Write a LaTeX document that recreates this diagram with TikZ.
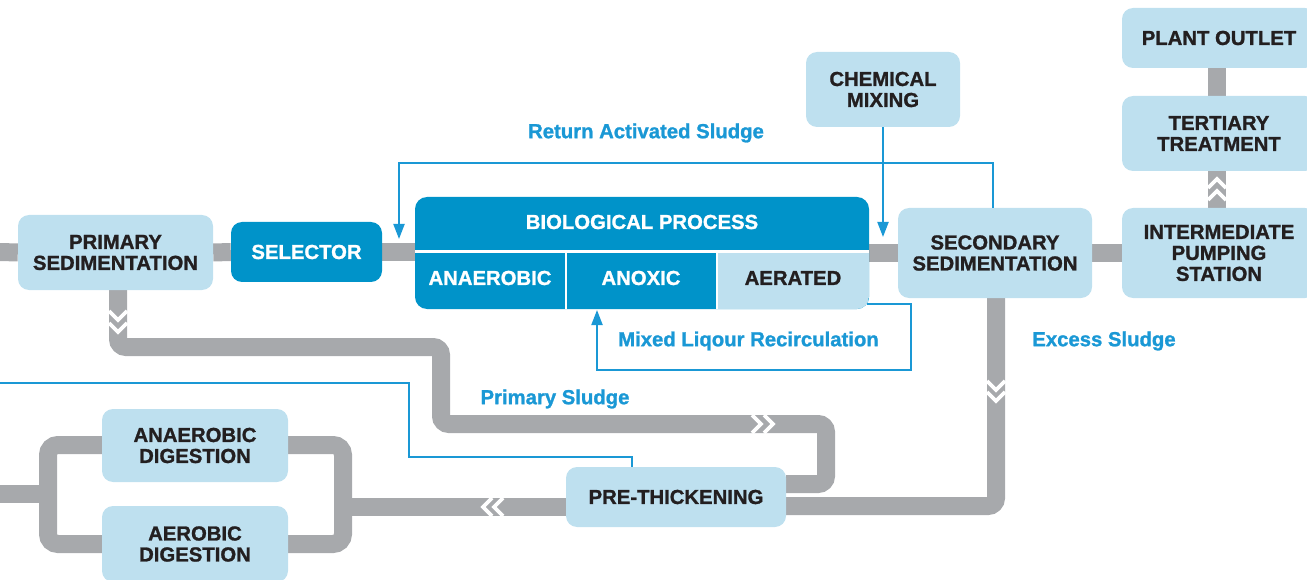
\documentclass[tikz,border=0pt]{standalone}
\usepackage{fontspec}
\setmainfont{Liberation Sans}[BoldFeatures={FakeBold=1.2}]
\usetikzlibrary{arrows.meta,backgrounds}
\definecolor{pipegray}{HTML}{A7A9AC}
\definecolor{lightbox}{HTML}{BEE0EF}
\definecolor{darkbox}{HTML}{0093C9}
\definecolor{txtdark}{HTML}{231F20}
\definecolor{flowblue}{HTML}{1A98D5}
\begin{document}
\begin{tikzpicture}[x=1pt,y=-1pt,
  box/.style={rounded corners=11pt, fill=lightbox, text=txtdark, align=center,
    font=\bfseries\fontsize{20.3}{21}\selectfont, inner sep=0pt},
  dbox/.style={box, fill=darkbox, text=white},
  celltext/.style={font=\bfseries\fontsize{20.3}{21}\selectfont, inner sep=0pt},
  pipe/.style={draw=pipegray, line width=18pt, rounded corners=8pt},
  flow/.style={draw=flowblue, line width=2pt},
  flowarrow/.style={flow, -{Triangle[length=15pt,width=11pt]}},
  lbl/.style={text=flowblue, font=\bfseries\fontsize{20.3}{21}\selectfont, inner sep=0pt},
  chev/.style={draw=white, line width=3.8pt},
]
\useasboundingbox (0,0) rectangle (1307,580);

% ---------- boxes ----------
\node[box, minimum width=195pt, minimum height=75pt] (primsed) at (115.5,252.5) {PRIMARY\\SEDIMENTATION};
\node[dbox, minimum width=151pt, minimum height=60pt] (selector) at (306.5,252) {SELECTOR};
\node[dbox, minimum width=454pt, minimum height=112pt, rounded corners=12pt] (bio) at (642,253) {};
\begin{scope}
  \clip[rounded corners=12pt] (415,197) rectangle (869,309);
  \fill[lightbox] (717,251.5) rectangle (869,309);
\end{scope}
\draw[white, line width=2.5pt] (415,251.5) -- (869,251.5);
\draw[white, line width=2.5pt] (566,251.5) -- (566,309);
\draw[white, line width=2.5pt] (717,251.5) -- (717,309);
\node[celltext, text=white] (biohead) at (642,222) {BIOLOGICAL PROCESS};
\node[celltext, text=white] (anaer) at (490,278) {ANAEROBIC};
\node[celltext, text=white] (anox) at (641,278) {ANOXIC};
\node[celltext, text=txtdark] (aer) at (793,278) {AERATED};

\node[box, minimum width=154pt, minimum height=75pt] (chem) at (883,89.5) {CHEMICAL\\MIXING};
\node[box, minimum width=194pt, minimum height=90pt] (secsed) at (995,253) {SECONDARY\\SEDIMENTATION};
\node[box, minimum width=194pt, minimum height=90pt] (ips) at (1219,253) {INTERMEDIATE\\PUMPING\\STATION};
\node[box, minimum width=194pt, minimum height=75pt] (tert) at (1219,133.5) {TERTIARY\\TREATMENT};
\node[box, minimum width=194pt, minimum height=60pt] (outlet) at (1219,38) {PLANT OUTLET};
\node[box, minimum width=220pt, minimum height=60pt] (prethick) at (676,497) {PRE-THICKENING};
\node[box, minimum width=186pt, minimum height=73pt] (anadig) at (195,445.5) {ANAEROBIC\\DIGESTION};
\node[box, minimum width=186pt, minimum height=76pt] (aerdig) at (195,544) {AEROBIC\\DIGESTION};

% ---------- coordinates ----------
\coordinate (mainin) at (0,252);
\coordinate (tx) at (1217,0);
\coordinate (psS) at (118,347);
\coordinate (psA) at (441,347);
\coordinate (psB) at (826,424);
\coordinate (psC) at (826,484);
\coordinate (exC) at (996,506);
\coordinate (dgR) at (343,507);
\coordinate (loopNW) at (48,445);
\coordinate (loopSE) at (343,544);
\coordinate (dgIn) at (0,494);

% ---------- pipes ----------
\begin{scope}[on background layer]
  \draw[pipe] (mainin) -- (primsed.west);
  \draw[pipe] (primsed.east) -- (selector.west);
  \draw[pipe] (selector.east) -- (selector.east -| bio.west);
  \draw[pipe] (bio.east |- secsed.west) -- (secsed.west);
  \draw[pipe] (secsed.east) -- (ips.west);
  \draw[pipe] (outlet.south -| tx) -- (tert.north -| tx);
  \draw[pipe] (tert.south -| tx) -- (ips.north -| tx);
  % primary sludge
  \draw[pipe] (primsed.south -| psS) -- (psS) -- (psA) -- (psA |- psB) -- (psB) -- (psC) -- (psC -| prethick.east);
  % excess sludge
  \draw[pipe] (secsed.south -| exC) -- (exC) -- (exC -| prethick.east);
  % digestion
  \draw[pipe] (prethick.west |- dgR) -- (dgR);
  \draw[pipe, rounded corners=10pt] (loopNW) rectangle (loopSE);
  \draw[pipe] (dgIn) -- (dgIn -| loopNW);
  % chevrons
  \draw[chev] (752,415) -- (761,424) -- (752,433);
  \draw[chev] (764,415) -- (773,424) -- (764,433);
  \draw[chev] (492,498) -- (483,507) -- (492,516);
  \draw[chev] (503,498) -- (494,507) -- (503,516);
  \draw[chev] (109,311) -- (118,320) -- (127,311);
  \draw[chev] (109,323) -- (118,332) -- (127,323);
  \draw[chev] (987,381) -- (996,390) -- (1005,381);
  \draw[chev] (987,392) -- (996,401) -- (1005,392);
  \draw[chev] (1208,188) -- (1217,179) -- (1226,188);
  \draw[chev] (1208,200) -- (1217,191) -- (1226,200);
\end{scope}

% ---------- flow lines ----------
\coordinate (rasTR) at (993,163);
\coordinate (rasTL) at (399,163);
\coordinate (rasEnd) at (399,239);
\draw[flowarrow] (secsed.north -| rasTR) -- (rasTR) -- (rasTL) -- (rasEnd);
\coordinate (chemEnd) at (883,237);
\draw[flowarrow] (chem.south) -- (chemEnd);
\coordinate (m1) at (867,304);
\coordinate (m2) at (911,370);
\coordinate (mEnd) at (597,310);
\draw[flowarrow] (m1) -- (m1 -| m2) -- (m2) -- (m2 -| mEnd) -- (mEnd);
\coordinate (b0) at (0,383);
\coordinate (b1) at (409,457);
\coordinate (b2) at (632,457);
\draw[flow] (b0) -| (b1) -- (b2) -- (prethick.north -| b2);

% ---------- labels ----------
\node[lbl] (lras) at (646,133) {Return Activated Sludge};
\node[lbl] (lps) at (555,399) {Primary Sludge};
\node[lbl] (lmlr) at (748.5,341) {Mixed Liqour Recirculation};
\node[lbl] (les) at (1104,341) {Excess Sludge};
\end{tikzpicture}
\end{document}
